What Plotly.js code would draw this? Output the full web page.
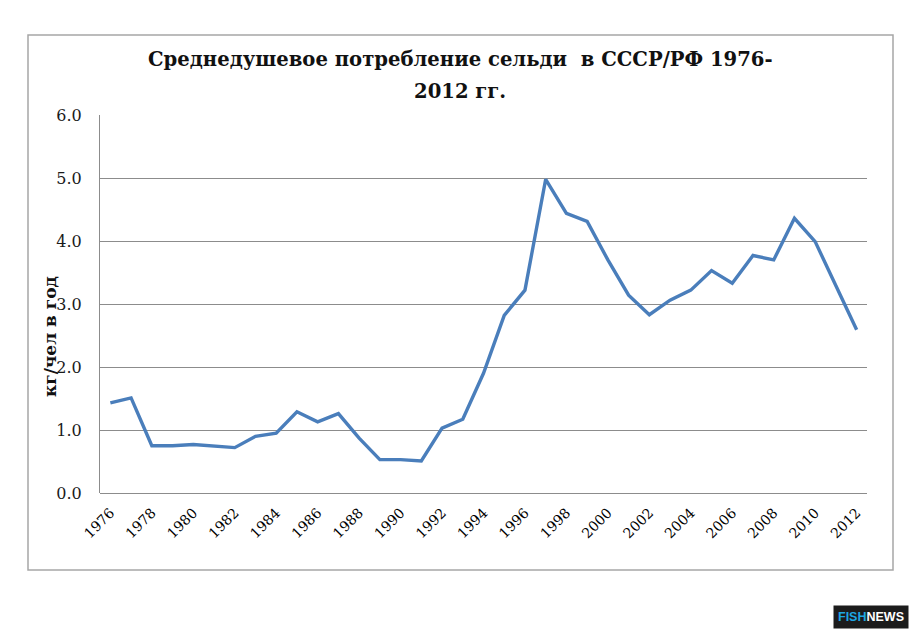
<!DOCTYPE html>
<html>
<head>
<meta charset="utf-8">
<script src="https://cdn.plot.ly/plotly-3.0.1.min.js"></script>
<style>
  html, body { margin: 0; padding: 0; background: #fff; }
  #chart { width: 918px; height: 637px; }
</style>
</head>
<body>
<div id="chart"></div>
<script>
// ─── Data ───
const years = [
  1976, 1977, 1978, 1979, 1980, 1981, 1982, 1983, 1984, 1985,
  1986, 1987, 1988, 1989, 1990, 1991, 1992, 1993, 1994, 1995,
  1996, 1997, 1998, 1999, 2000, 2001, 2002, 2003, 2004, 2005,
  2006, 2007, 2008, 2009, 2010, 2011, 2012,
];
const perCapitaKg = [
  1.43, 1.51, 0.75, 0.75, 0.77, 0.75, 0.72, 0.90, 0.95, 1.29,
  1.13, 1.26, 0.87, 0.53, 0.53, 0.51, 1.03, 1.17, 1.90, 2.82,
  3.22, 4.98, 4.44, 4.31, 3.70, 3.14, 2.83, 3.06, 3.22, 3.53,
  3.33, 3.77, 3.70, 4.36, 3.99, 3.29, 2.59,
];
const yTicks = [0, 1, 2, 3, 4, 5, 6];
const xTickYears = years.filter((y) => (y - 1976) % 2 === 0);
const titleLines = ["Среднедушевое потребление сельди  в СССР/РФ 1976-", "2012 гг."];

const serif = "DejaVu Serif, Liberation Serif, serif";
const gridColor = "#8c8c8c";

// plot box in pixels: x 100..867, y 115..493
const px = (x) => (x - 100) / 767;
const py = (y) => (493 - y) / 378;

const trace = {
  x: years.map(String),
  y: perCapitaKg,
  type: "scatter",
  mode: "lines",
  line: { color: "#4a7ebb", width: 3.4 },
  hoverinfo: "x+y",
};

const layout = {
  width: 918,
  height: 637,
  margin: { l: 100, r: 51, t: 115, b: 144 },
  paper_bgcolor: "#fff",
  plot_bgcolor: "#fff",
  showlegend: false,
  xaxis: {
    type: "category",
    range: [-0.5, years.length - 0.5],
    tickmode: "array",
    tickvals: xTickYears.map(String),
    ticktext: xTickYears.map(String),
    tickangle: -45,
    tickfont: { family: serif, size: 14, color: "#000" },
    ticklabelstandoff: 8,
    showgrid: false,
    zeroline: false,
    showline: false,
    ticks: "",
    fixedrange: true,
  },
  yaxis: {
    range: [0, 6],
    tickmode: "array",
    tickvals: yTicks,
    ticktext: yTicks.map((v) => v.toFixed(1)),
    tickfont: { family: serif, size: 16, color: "#1a1a1a" },
    ticklabelstandoff: 14,
    showgrid: true,
    gridcolor: gridColor,
    gridwidth: 1,
    zeroline: true,
    zerolinecolor: gridColor,
    zerolinewidth: 1,
    showline: true,
    linecolor: gridColor,
    linewidth: 1,
    ticks: "",
    fixedrange: true,
  },
  annotations: [
    ...titleLines.map((t, i) => ({
      text: "<b>" + t + "</b>",
      xref: "paper",
      yref: "paper",
      x: px(460),
      y: py(60 + i * 32),
      xanchor: "center",
      yanchor: "middle",
      showarrow: false,
      font: { family: serif, size: 19.6, color: "#111" },
    })),
    {
      text: "<b>кг/чел в год</b>",
      textangle: -90,
      xref: "paper",
      yref: "paper",
      x: px(50),
      y: py(337),
      xanchor: "center",
      yanchor: "middle",
      showarrow: false,
      font: { family: serif, size: 17, color: "#111" },
    },
    {
      text: "<b><span style='color:#1ea7e4'>FISH</span><span style='color:#ffffff'>NEWS</span></b>",
      xref: "paper",
      yref: "paper",
      x: px(871),
      y: py(617),
      xanchor: "center",
      yanchor: "middle",
      showarrow: false,
      bgcolor: "#1c1c1c",
      borderpad: 4,
      font: { family: "Liberation Sans, Arial, sans-serif", size: 12.5 },
    },
  ],
  shapes: [
    {
      type: "rect",
      xref: "paper",
      yref: "paper",
      x0: px(28),
      x1: px(893),
      y0: py(570),
      y1: py(35),
      line: { color: "#a6a6a6", width: 1.5 },
      fillcolor: "rgba(0,0,0,0)",
      layer: "below",
    },
  ],
};

Plotly.newPlot("chart", [trace], layout, { displayModeBar: false, staticPlot: true });
</script>
</body>
</html>
